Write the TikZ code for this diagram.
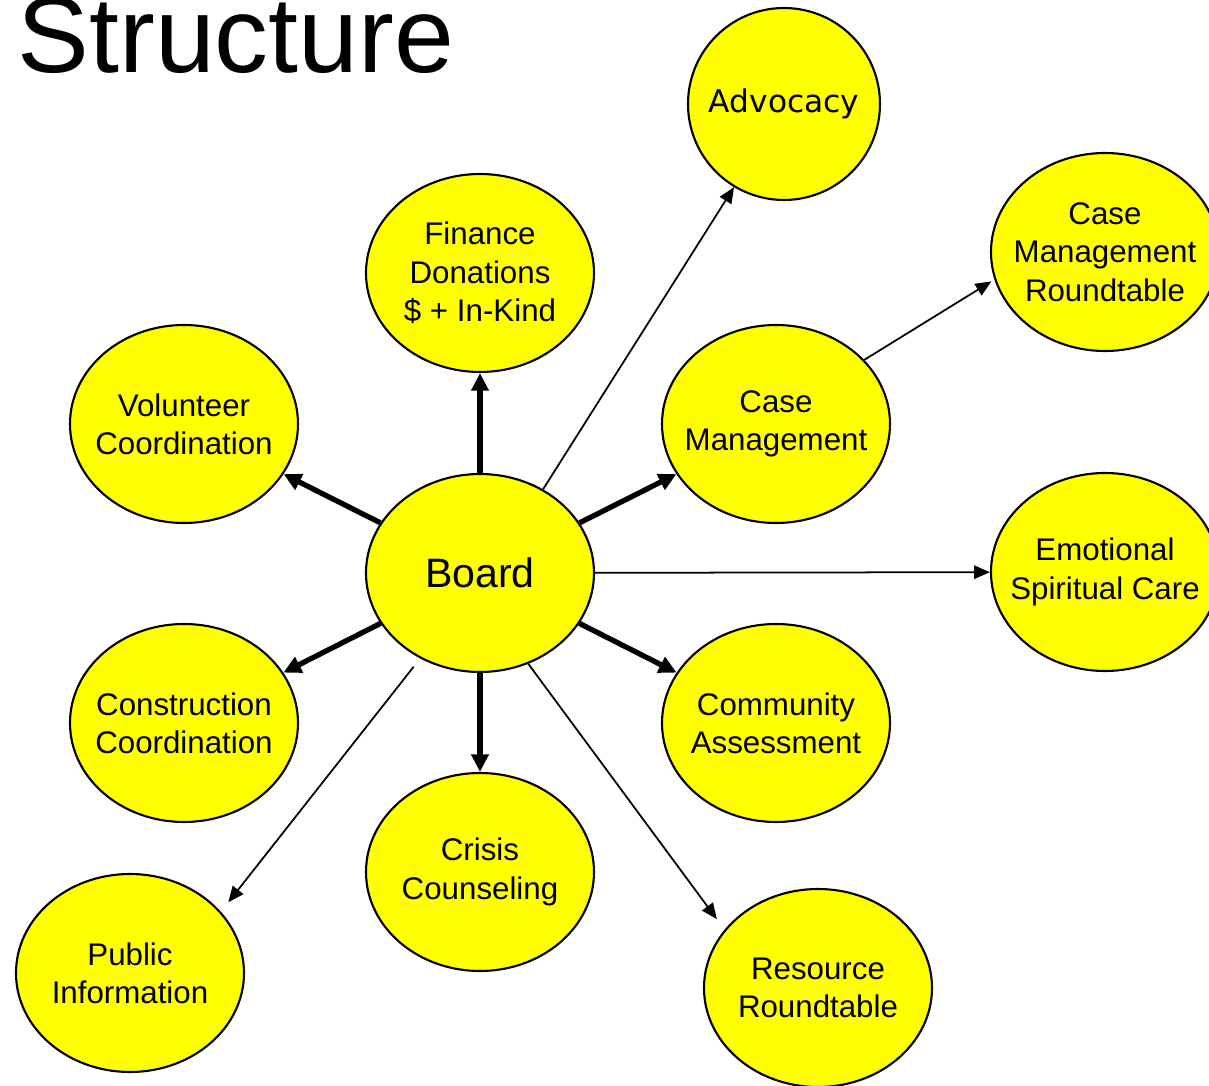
\documentclass[tikz,border=0pt]{standalone}
\usepackage{fontspec}
\setmainfont{Liberation Sans}
\newfontfamily\advfont{DejaVu Sans}
\usepackage{tikz}
\usetikzlibrary{arrows.meta,shapes}
\definecolor{unityellow}{RGB}{255,255,0}
\newcommand{\unitfont}{\fontsize{8.9}{10.9}\selectfont}
\tikzstyle{unit}=[ellipse,draw=black,fill=unityellow,line width=0.6pt,
                minimum width=2.28cm,minimum height=1.98cm,inner xsep=-1cm,
                inner ysep=0pt,align=center,font=\unitfont]
\tikzstyle{thick link}=[-{Triangle[length=5pt,width=4.8pt]},line width=1.5pt]
\tikzstyle{thin link}=[-{Triangle[length=4.5pt,width=3.8pt]},line width=0.5pt]

\begin{document}
\begin{tikzpicture}
\useasboundingbox (0,0) rectangle (12.09,-10.86);
\node[anchor=base west,inner sep=0pt,font=\fontsize{30.6}{36}\selectfont] (title) at (0.17,-0.73) {Structure};
% the units round the board
\node[unit,font=\fontsize{11.7}{14}\selectfont] (board) at (4.80,-5.73) {Board};
\node[unit,circle,minimum size=1.92cm,font=\advfont\unitfont] (adv) at (7.84,-1.04) {Advocacy};
\node[unit] (fin) at (4.80,-2.73) {Finance\\Donations\\\$ + In-Kind};
\node[unit] (cmr) at (11.05,-2.52) {Case\\Management\\Roundtable};
\node[unit] (vol) at (1.84,-4.24) {Volunteer\\Coordination};
\node[unit] (cm) at (7.76,-4.24) {Case\\Management};
\node[unit] (emo) at (11.05,-5.72) {Emotional\\Spiritual Care};
\node[unit] (con) at (1.84,-7.23) {Construction\\Coordination};
\node[unit] (comm) at (7.76,-7.23) {Community\\Assessment};
\node[unit] (cri) at (4.80,-8.72) {Crisis\\Counseling};
\node[unit] (pub) at (1.30,-9.73) {Public\\Information};
\node[unit] (res) at (8.18,-9.88) {Resource\\Roundtable};
% thick arrows
\draw[thick link] (board) -- (fin);
\draw[thick link] (board) -- (vol);
\draw[thick link] (board) -- (cm);
\draw[thick link] (board) -- (con);
\draw[thick link] (board) -- (comm);
\draw[thick link] (board) -- (cri);
% thin arrows
\draw[thin link] (board.53) -- (adv.239);
\draw[thin link] (board) -- (emo);
\draw[thin link,shorten <=3pt,shorten >=3.4pt] (board.235) -- (pub.34);
\draw[thin link,shorten >=3.7pt] (board.298) -- (res.148);
\draw[thin link,shorten >=1pt] (cm.36) -- (cmr.194);
\end{tikzpicture}
\end{document}
